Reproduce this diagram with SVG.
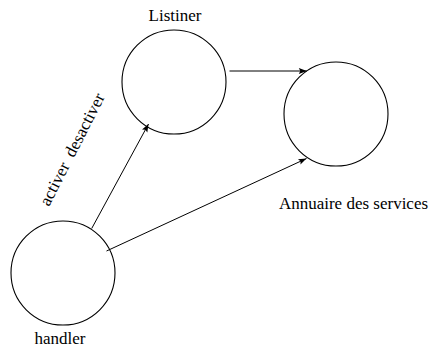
<svg xmlns="http://www.w3.org/2000/svg" width="430" height="347" viewBox="0 0 430 347">
<style>
.node{fill:none;stroke:#000;stroke-width:1.1}
.edge{fill:none;stroke:#000;stroke-width:1}
text{font-family:"Liberation Serif","Times New Roman",serif;font-size:17px;fill:#000}
</style>
<defs>
<marker id="arr" markerUnits="userSpaceOnUse" markerWidth="12" markerHeight="8" viewBox="-10 -4 12 8" refX="0" refY="0" orient="auto">
<path d="M0,0 L-8,-3 L-6.5,0 L-8,3 Z" fill="#000"/>
</marker>
</defs>
<rect width="430" height="347" fill="#fff"/>
<g id="listiner">
<circle class="node" cx="174" cy="82" r="52"/>
<text x="175" y="21" text-anchor="middle">Listiner</text>
</g>
<g id="annuaire">
<circle class="node" cx="336" cy="114" r="52"/>
<text x="353.5" y="209" text-anchor="middle">Annuaire des services</text>
</g>
<g id="handler">
<circle class="node" cx="63" cy="273" r="52"/>
<text x="60" y="344" text-anchor="middle">handler</text>
</g>
<g id="connectors">
<line class="edge" x1="229.5" y1="71" x2="306.8" y2="71" marker-end="url(#arr)"/>
<line class="edge" x1="91.7" y1="228.5" x2="148.5" y2="124" marker-end="url(#arr)"/>
<line class="edge" x1="106.5" y1="251" x2="306.5" y2="158.5" marker-end="url(#arr)"/>
<text transform="translate(49 207) rotate(-63)" xml:space="preserve" style="white-space:pre">activer  desactiver</text>
</g>
</svg>
